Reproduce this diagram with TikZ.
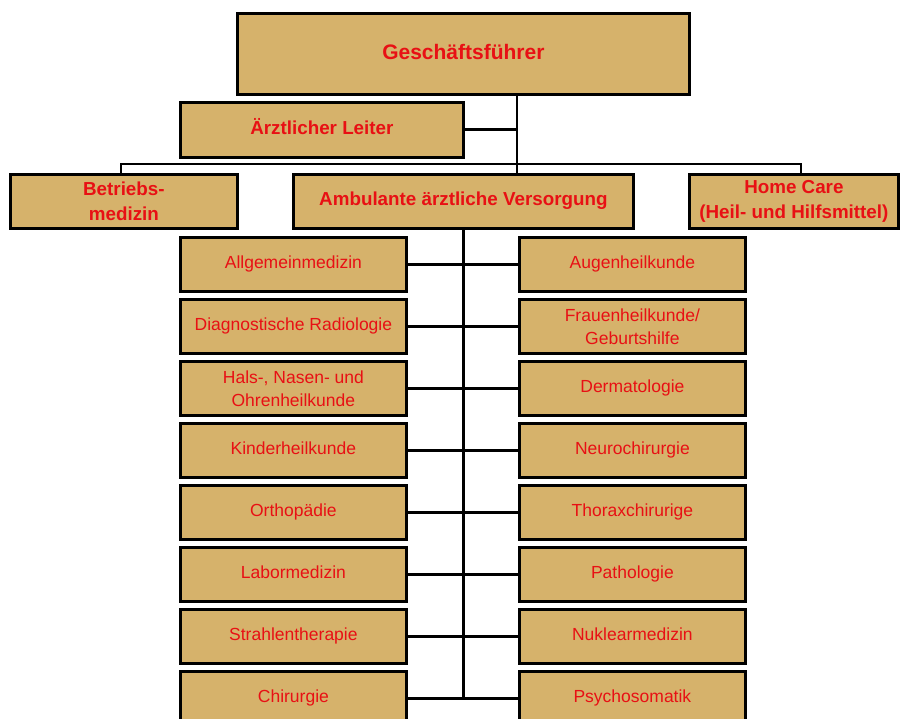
\documentclass[tikz,border=0pt]{standalone}
\usepackage{fontspec}
\setmainfont{Liberation Sans}
\definecolor{boxfill}{RGB}{214,178,107}
\definecolor{txtred}{RGB}{232,16,20}
\begin{document}
\begin{tikzpicture}[x=1pt,y=-1pt,
  box/.style={draw=black,line width=2.8pt,fill=boxfill,anchor=north west,inner sep=0pt,align=center,text=txtred},
  bigbox/.style={box,font=\fontsize{18.8}{25}\selectfont\bfseries},
  topbox/.style={box,font=\fontsize{21}{25}\selectfont\bfseries,text height=15pt,text depth=4.4pt},
  smallbox/.style={box,font=\fontsize{17.5}{23}\selectfont,minimum width=226pt,minimum height=54pt},
  one/.style={text height=12.5pt,text depth=3.7pt},
  conn/.style={line width=2.8pt,draw=black}]
\useasboundingbox (0,0) rectangle (901,719);
% top level
\node[topbox,minimum width=452pt,minimum height=81pt] (gf) at (236,12) {Geschäftsführer};
\node[bigbox,one,minimum width=283pt,minimum height=55pt] (al) at (179,101) {Ärztlicher Leiter};
\node[bigbox,minimum width=227pt,minimum height=54pt] (bm) at (9,173) {Betriebs-\\medizin};
\node[bigbox,one,minimum width=340pt,minimum height=54pt] (amb) at (292,173) {Ambulante ärztliche Versorgung};
\node[bigbox,minimum width=209pt,minimum height=54pt] (hc) at (688,173) {Home Care\\(Heil- und Hilfsmittel)};
% coordinates
\coordinate (j) at (517,164);
\coordinate (bl) at (121,164);
\coordinate (br) at (801,164);
% left column
\node[smallbox,one] (l1) at (179,236) {Allgemeinmedizin};
\node[smallbox,one] (l2) at (179,298) {Diagnostische Radiologie};
\node[smallbox] (l3) at (179,360) {Hals-, Nasen- und\\Ohrenheilkunde};
\node[smallbox,one] (l4) at (179,422) {Kinderheilkunde};
\node[smallbox,one] (l5) at (179,484) {Orthopädie};
\node[smallbox,one] (l6) at (179,546) {Labormedizin};
\node[smallbox,one] (l7) at (179,608) {Strahlentherapie};
\node[smallbox,one] (l8) at (179,670) {Chirurgie};
% right column
\node[smallbox,one] (r1) at (518,236) {Augenheilkunde};
\node[smallbox] (r2) at (518,298) {Frauenheilkunde/\\Geburtshilfe};
\node[smallbox,one] (r3) at (518,360) {Dermatologie};
\node[smallbox,one] (r4) at (518,422) {Neurochirurgie};
\node[smallbox,one] (r5) at (518,484) {Thoraxchirurige};
\node[smallbox,one] (r6) at (518,546) {Pathologie};
\node[smallbox,one] (r7) at (518,608) {Nuklearmedizin};
\node[smallbox,one] (r8) at (518,670) {Psychosomatik};
% connectors
\draw[conn] (gf.south -| j) -- (j) -- (j |- amb.north);
\draw[conn] (al.east) -- (al.east -| j);
\draw[conn] (bl |- bm.north) -- (bl) -- (br) -- (br |- hc.north);
\draw[conn] (amb.south) -- (amb.south |- l8.east);
\foreach \i in {1,...,8}{\draw[conn] (l\i.east) -- (r\i.west);}
\end{tikzpicture}
\end{document}
